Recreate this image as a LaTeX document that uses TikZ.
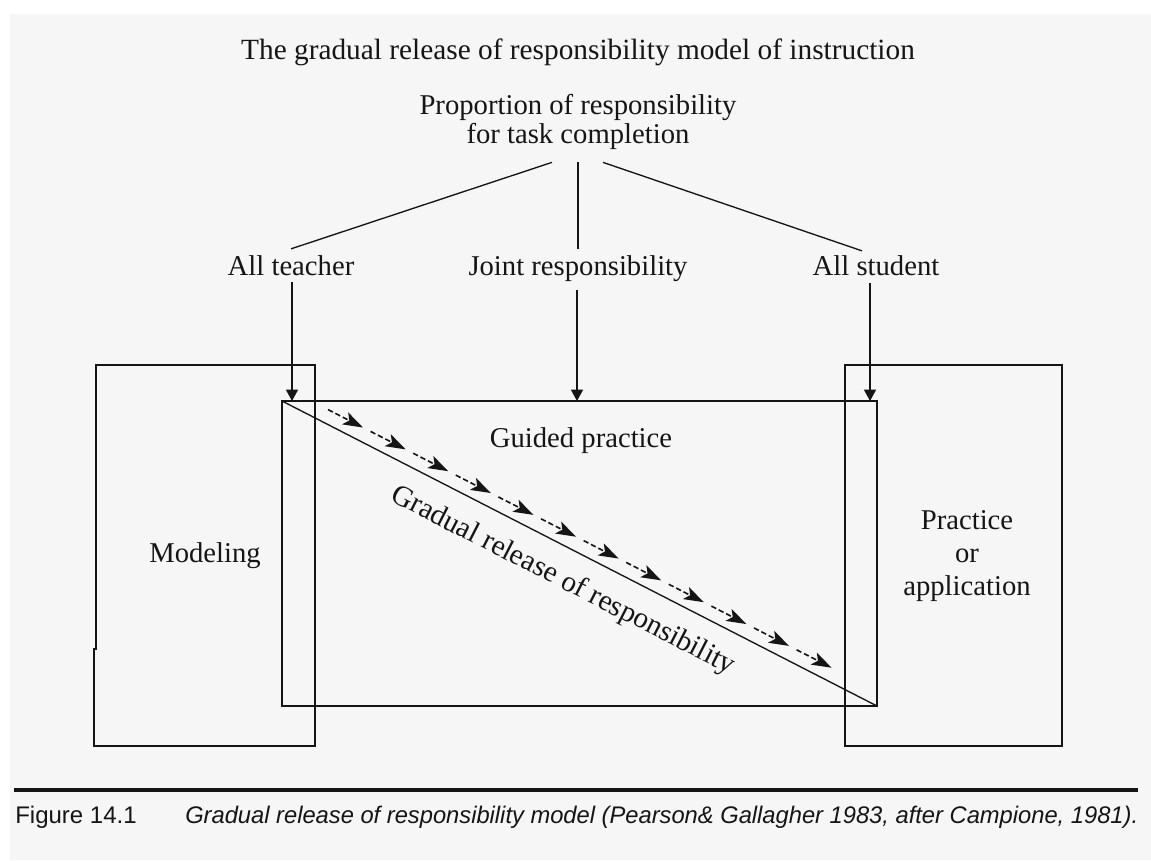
\documentclass[tikz,border=0pt]{standalone}
\usepackage{graphicx}
\usepackage{fontspec}
\setmainfont{Liberation Serif}
\newfontfamily\capfont{Liberation Sans}
\usetikzlibrary{arrows.meta,calc}
\definecolor{bg}{HTML}{F6F6F6}
\definecolor{ink}{HTML}{151515}
\begin{document}
\begin{tikzpicture}[x=0.75pt,y=-0.75pt,
  lbl/.style={font=\fontsize{21.5}{21.75}\selectfont, inner sep=0pt, anchor=base, text=ink, align=center},
  box/.style={draw=ink, line width=1.5pt},
  link/.style={draw=ink, line width=1pt},
  down/.style={link, -{Triangle[length=8.5pt,width=9pt]}},
  rel/.style={draw=ink, line width=1.2pt, dash pattern=on 4pt off 2.2pt, -{Stealth[length=15pt,width=10pt,inset=3.5pt]}},
]
\fill[white] (0,0) rectangle (1151,860);
\fill[bg] (10,14) rectangle (1151,860);
\useasboundingbox (0,0) rectangle (1151,860);

% texts
\node[lbl, font=\fontsize{22}{24}\selectfont] (title) at (578,59) {The gradual release of responsibility model of instruction};
\node[lbl] (prop) at (578,143) {Proportion of responsibility\\for task completion};
\node[lbl] (teach) at (291,275) {All teacher};
\node[lbl] (joint) at (578,275) {Joint responsibility};
\node[lbl] (stud) at (876,275) {All student};
\node[lbl] (guided) at (581,447) {Guided practice};
\node[lbl] (model) at (205,562) {Modeling};
\node[lbl, font=\fontsize{21.5}{24.75}\selectfont] (pract) at (967,595) {Practice\\or\\application};

% boxes
\coordinate (gtl) at (282,401);
\coordinate (gbr) at (877,706);
\draw[box] (315,365) -- (96,365) -- (96,649) -- (94,649) -- (94,746) -- (315,746) -- cycle;
\draw[box] (845,365) rectangle (1062,746);
\draw[box] (gtl) rectangle (gbr);
\draw[link] (gtl) -- (gbr);

% top fan
\draw[link] ($(prop.south)+(-26,13)$) -- ($(teach.north)+(0,-6)$);
\draw[link] ($(prop.south)+(0,13)$) -- ($(joint.north)+(0,-6)$);
\draw[link] ($(prop.south)+(25,13)$) -- ($(stud.north)+(-14,-4)$);

% arrows into guided practice
\coordinate (ta) at (292,401);
\coordinate (ja) at (577,401);
\coordinate (sa) at (870,401);
\draw[down] ($(teach.base)+(1,7)$) -- (ta);
\draw[down] ($(joint.base)+(-1,15)$) -- (ja);
\draw[down] ($(stud.base)+(-6,8)$) -- (sa);

% gradual release arrows
\foreach \i in {0,...,11}{
  \pgfmathsetmacro\xa{328+42.6*\i}
  \pgfmathsetmacro\ya{401+0.5126*(\xa-282)-15}
  \pgfmathsetmacro\xb{\xa+35}
  \pgfmathsetmacro\yb{401+0.5126*(\xb-282)-15}
  \draw[rel] (\xa,\ya) -- (\xb,\yb);
}
\node[lbl, anchor=center, font=\fontsize{22}{24}\selectfont, rotate=-27.14] (grad) at (563,581) {Gradual release of responsibility};

% rule and caption
\coordinate (rl) at (14,790);
\coordinate (rr) at (1138,790);
\draw[draw=ink, line width=3pt] (rl) -- (rr);
\node[inner sep=0pt, anchor=base west, text=ink, font=\capfont\fontsize{18}{20}\selectfont] (fig) at (15,823) {Figure 14.1};
\node[inner sep=0pt, anchor=base west, text=ink, font=\capfont\fontsize{18}{20}\selectfont] (cap) at (185,823) {\resizebox{714.75pt}{\height}{\itshape Gradual release of responsibility model (Pearson\& Gallagher 1983, after Campione, 1981).}};
\end{tikzpicture}
\end{document}
